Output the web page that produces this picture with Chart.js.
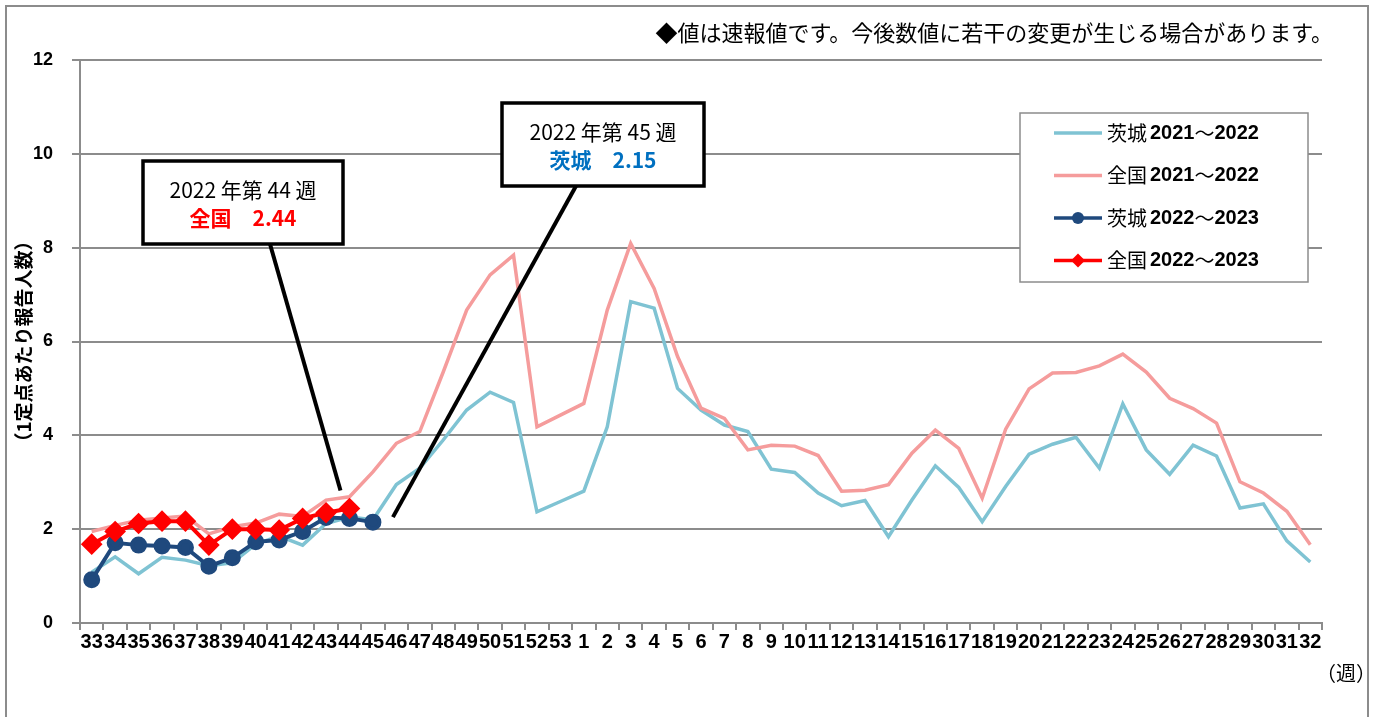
<!DOCTYPE html>
<html lang="ja">
<head>
<meta charset="utf-8">
<title>定点あたり報告人数</title>
<script src="https://cdn.jsdelivr.net/npm/chart.js@4.4.1/dist/chart.umd.min.js"></script>
<style>
  html, body { margin: 0; padding: 0; background: #fff; }
  canvas { display: block; }
</style>
</head>
<body>
<canvas id="chart" width="1374" height="717"></canvas>
<script>
// 週ラベル（第33週〜翌年第32週）
const weeks = ["33", "34", "35", "36", "37", "38", "39", "40", "41", "42", "43", "44", "45", "46", "47", "48", "49", "50", "51", "52", "53",
  "1", "2", "3", "4", "5", "6", "7", "8", "9", "10", "11", "12", "13", "14", "15", "16", "17", "18", "19", "20",
  "21", "22", "23", "24", "25", "26", "27", "28", "29", "30", "31", "32"];

// 茨城 2021～2022
const ibaraki2122 = [1.08, 1.41, 1.05, 1.40, 1.34, 1.22, 1.28, 1.68, 1.85, 1.66, 2.12, 2.26, 2.20, 2.95, 3.30, 3.90, 4.54, 4.92, 4.70, 2.37, 2.59,
  2.81, 4.18, 6.85, 6.71, 5.00, 4.54, 4.22, 4.08, 3.28, 3.21, 2.77, 2.50, 2.61, 1.84, 2.62, 3.35, 2.89, 2.16, 2.91, 3.60,
  3.81, 3.96, 3.30, 4.67, 3.69, 3.17, 3.79, 3.56, 2.45, 2.54, 1.75, 1.30];

// 全国 2021～2022
const zenkoku2122 = [1.95, 2.08, 2.19, 2.24, 2.28, 1.90, 2.05, 2.13, 2.32, 2.27, 2.62, 2.69, 3.22, 3.83, 4.08, 5.35, 6.67, 7.42, 7.84, 4.18, 4.43,
  4.68, 6.67, 8.09, 7.13, 5.68, 4.58, 4.36, 3.69, 3.79, 3.77, 3.57, 2.81, 2.83, 2.95, 3.62, 4.11, 3.72, 2.66, 4.13, 4.99,
  5.33, 5.34, 5.48, 5.73, 5.35, 4.79, 4.57, 4.26, 3.01, 2.77, 2.38, 1.67];

// 茨城 2022～2023（第45週まで）
const ibaraki2223 = [0.92, 1.71, 1.66, 1.64, 1.61, 1.21, 1.39, 1.73, 1.77, 1.95, 2.25, 2.23, 2.15];

// 全国 2022～2023（第44週まで）
const zenkoku2223 = [1.68, 1.95, 2.12, 2.17, 2.17, 1.66, 2.00, 2.00, 1.98, 2.23, 2.35, 2.44];

const yTicks = [0, 2, 4, 6, 8, 10, 12];

const colors = {
  ibaraki2122: "#7fc3d3",
  zenkoku2122: "#f59c9c",
  ibaraki2223: "#1f497d",
  zenkoku2223: "#ff0000",
};

const gridGray = "#8c8c8c";
const jpFont = '"Noto Sans CJK JP", "Noto Sans", sans-serif';
const numFont = '"Liberation Sans", Arial, sans-serif';

// 吹き出し（年・週と値）
function drawCallout(ctx, box, line1, line2, color2, from, to) {
  ctx.save();
  ctx.strokeStyle = "#000";
  ctx.lineWidth = 4;
  ctx.beginPath();
  ctx.moveTo(from.x, from.y);
  ctx.lineTo(to.x, to.y);
  ctx.stroke();

  ctx.fillStyle = "#fff";
  ctx.fillRect(box.x, box.y, box.w, box.h);
  ctx.lineWidth = 3.5;
  ctx.strokeRect(box.x, box.y, box.w, box.h);

  const cx = box.x + box.w / 2;
  ctx.textAlign = "center";
  ctx.textBaseline = "middle";
  ctx.fillStyle = "#000";
  ctx.font = "21px " + jpFont;
  ctx.fillText(line1, cx, box.y + 29);
  ctx.fillStyle = color2;
  ctx.font = "bold 21px " + jpFont;
  ctx.fillText(line2, cx, box.y + 57);
  ctx.restore();
}

const decorations = {
  id: "decorations",
  beforeDraw(chart) {
    const c = chart.ctx;
    c.save();
    c.fillStyle = "#fff";
    c.fillRect(0, 0, chart.width, chart.height);
    c.strokeStyle = gridGray;
    c.lineWidth = 2;
    c.strokeRect(6, 6, chart.width - 12, chart.height + 10);
    c.restore();
  },
  afterDatasetsDraw(chart) {
    const c = chart.ctx;
    const red44 = chart.getDatasetMeta(3).data[11];
    const blue45 = chart.getDatasetMeta(2).data[12];

    drawCallout(c, { x: 143, y: 161, w: 200, h: 83 }, "2022 年第 44 週",
      "全国　" + zenkoku2223[11].toFixed(2), "#ff0000",
      { x: 270, y: 244 }, { x: red44.x - 9, y: red44.y - 18 });

    drawCallout(c, { x: 502, y: 103, w: 202, h: 83 }, "2022 年第 45 週",
      "茨城　" + ibaraki2223[12].toFixed(2), "#0070c0",
      { x: 576, y: 186 }, { x: blue45.x + 20, y: blue45.y - 5 });
  },
  afterDraw(chart) {
    const c = chart.ctx;
    c.save();

    // 注記
    c.fillStyle = "#000";
    c.font = "22px " + jpFont;
    c.textAlign = "right";
    c.textBaseline = "middle";
    c.fillText("◆値は速報値です。今後数値に若干の変更が生じる場合があります。", 1333, 33);

    // 単位（週）
    c.font = "20px " + jpFont;
    c.textAlign = "left";
    c.fillText("（週）", 1316, 673);

    // 凡例
    const lx = 1020, ly = 113, lw = 288, lh = 169;
    c.fillStyle = "#fff";
    c.fillRect(lx, ly, lw, lh);
    c.strokeStyle = gridGray;
    c.lineWidth = 1.5;
    c.strokeRect(lx, ly, lw, lh);

    chart.data.datasets.forEach((ds, i) => {
      const y = 133 + i * 42.5;
      c.strokeStyle = ds.borderColor;
      c.lineWidth = 3.5;
      c.beginPath();
      c.moveTo(1054, y);
      c.lineTo(1102, y);
      c.stroke();
      if (ds.pointStyle === "circle" && ds.pointRadius > 0) {
        c.fillStyle = ds.borderColor;
        c.beginPath();
        c.arc(1078, y, 6, 0, Math.PI * 2);
        c.fill();
      } else if (ds.pointStyle === "rectRot" && ds.pointRadius > 0) {
        c.fillStyle = ds.borderColor;
        c.beginPath();
        c.moveTo(1078, y - 7);
        c.lineTo(1085, y);
        c.lineTo(1078, y + 7);
        c.lineTo(1071, y);
        c.closePath();
        c.fill();
      }
      const parts = ds.label.split(" ");
      const years = parts[1].split("～");
      c.fillStyle = "#000";
      c.textAlign = "left";
      c.font = "20px " + jpFont;
      c.fillText(parts[0], 1107, y);
      let x = 1107 + c.measureText(parts[0]).width + 3;
      c.font = "bold 20px " + numFont;
      c.fillText(years[0], x, y);
      x += c.measureText(years[0]).width;
      c.font = "20px " + jpFont;
      c.fillText("～", x, y);
      x += c.measureText("～").width;
      c.font = "bold 20px " + numFont;
      c.fillText(years[1], x, y);
    });
    c.restore();
  },
};

new Chart(document.getElementById("chart"), {
  type: "line",
  data: {
    labels: weeks,
    datasets: [
      {
        label: "茨城 2021～2022",
        data: ibaraki2122,
        borderColor: colors.ibaraki2122,
        borderWidth: 3.5,
        pointRadius: 0,
        pointStyle: "circle",
        order: 4,
      },
      {
        label: "全国 2021～2022",
        data: zenkoku2122,
        borderColor: colors.zenkoku2122,
        borderWidth: 3.5,
        pointRadius: 0,
        pointStyle: "circle",
        order: 3,
      },
      {
        label: "茨城 2022～2023",
        data: ibaraki2223,
        borderColor: colors.ibaraki2223,
        backgroundColor: colors.ibaraki2223,
        borderWidth: 4,
        pointRadius: 6.5,
        pointStyle: "circle",
        order: 2,
      },
      {
        label: "全国 2022～2023",
        data: zenkoku2223,
        borderColor: colors.zenkoku2223,
        backgroundColor: colors.zenkoku2223,
        borderWidth: 4,
        pointRadius: 8,
        pointStyle: "rectRot",
        order: 1,
      },
    ],
  },
  options: {
    responsive: false,
    animation: false,
    devicePixelRatio: 1,
    elements: { line: { tension: 0, fill: false } },
    layout: { padding: { left: 0, top: 60, right: 52, bottom: 0 } },
    plugins: {
      legend: { display: false },
      tooltip: { enabled: false },
    },
    scales: {
      x: {
        type: "category",
        offset: true,
        afterFit: (scale) => { scale.height = 94; },
        grid: {
          offset: true,
          drawOnChartArea: false,
          drawTicks: true,
          tickLength: 7,
          color: gridGray,
          lineWidth: 2,
        },
        border: { display: true, color: gridGray, width: 2 },
        ticks: {
          autoSkip: false,
          maxRotation: 0,
          minRotation: 0,
          padding: 0,
          color: "#000",
          font: { family: numFont, size: 20, weight: "bold" },
        },
      },
      y: {
        min: 0,
        max: 12,
        afterFit: (scale) => { scale.width = 80; },
        afterBuildTicks: (scale) => { scale.ticks = yTicks.map((v) => ({ value: v })); },
        grid: {
          color: gridGray,
          lineWidth: 2,
          drawTicks: true,
          tickLength: 8,
        },
        border: { display: true, color: gridGray, width: 2 },
        ticks: {
          padding: 19,
          color: "#000",
          font: { family: numFont, size: 18, weight: "bold" },
        },
        title: {
          display: true,
          text: "（1定点あたり報告人数）",
          color: "#000",
          padding: { top: 12, bottom: 0 },
          font: { family: jpFont, size: 19, weight: "bold" },
        },
      },
    },
  },
  plugins: [decorations],
});
</script>
</body>
</html>
